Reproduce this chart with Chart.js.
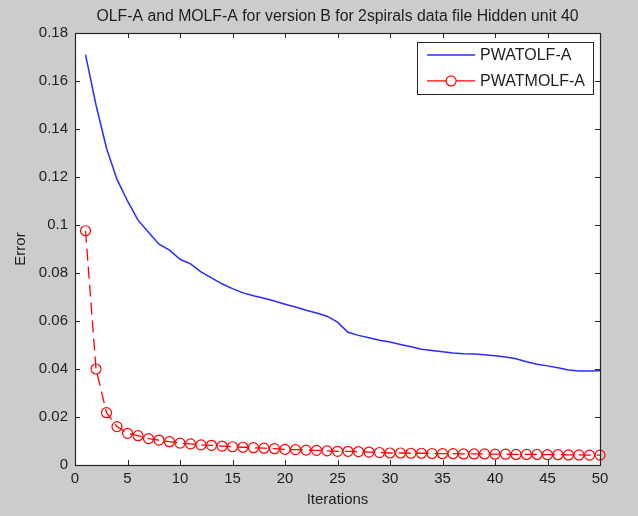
<!DOCTYPE html>
<html><head><meta charset="utf-8">
<script src="https://cdn.jsdelivr.net/npm/chart.js@4"></script>
<style>html,body{margin:0;padding:0;background:#cccccc;overflow:hidden}#wrap{width:638px;height:516px}</style>
</head><body><div id="wrap"><canvas id="c" width="638" height="516"></canvas></div>
<script>
const chartTitle = 'OLF-A and MOLF-A for version B for 2spirals data file Hidden unit 40';
const xAxisLabel = 'Iterations';
const yAxisLabel = 'Error';
const seriesNames = ['PWATOLF-A', 'PWATMOLF-A'];
const iterations = [1,2,3,4,5,6,7,8,9,10,11,12,13,14,15,16,17,18,19,20,21,22,23,24,25,26,27,28,29,30,31,32,33,34,35,36,37,38,39,40,41,42,43,44,45,46,47,48,49,50];
const pwatolfA = [0.171,0.150,0.132,0.119,0.110,0.102,0.097,0.092,0.0895,0.0857,
  0.0838,0.0805,0.0780,0.0755,0.0735,0.0717,0.0705,0.0695,0.0683,0.0670,
  0.0658,0.0645,0.0633,0.0620,0.0595,0.0553,0.0540,0.0530,0.0520,0.0512,
  0.0502,0.0493,0.0482,0.0477,0.0472,0.0467,0.0463,0.0462,0.0459,0.0455,
  0.0450,0.0443,0.0430,0.0420,0.0413,0.0405,0.0396,0.0392,0.0392,0.0393];
const pwatmolfA = [0.0976,0.0400,0.0218,0.0160,0.0132,0.0122,0.0110,0.0104,0.0097,0.0091,
  0.0088,0.0084,0.0082,0.0079,0.0076,0.0074,0.0072,0.0070,0.0068,0.0065,
  0.0064,0.0062,0.0061,0.0059,0.0057,0.0057,0.0056,0.0054,0.0052,0.0050,
  0.0050,0.0049,0.0049,0.0048,0.0047,0.0047,0.0046,0.0046,0.0046,0.0045,
  0.0045,0.0044,0.0044,0.0044,0.0043,0.0043,0.0042,0.0042,0.0041,0.0041];
const xTicks = [0,5,10,15,20,25,30,35,40,45,50];
const yTicks = [0,0.02,0.04,0.06,0.08,0.1,0.12,0.14,0.16,0.18];

const FONT = '"Liberation Sans", Arial, Helvetica, sans-serif';
const TEXT = '#1e1e1e';

const framePlugin = {
  id: 'matlabFrame',
  beforeDraw(chart) {
    const {ctx, chartArea: a} = chart;
    ctx.save();
    ctx.fillStyle = '#cccccc';
    ctx.fillRect(0, 0, chart.width, chart.height);
    ctx.fillStyle = '#ffffff';
    ctx.fillRect(a.left, a.top, a.right - a.left, a.bottom - a.top);
    ctx.restore();
  },
  beforeDatasetsDraw(chart) {
    const {ctx, chartArea: a, scales} = chart;
    ctx.save();
    ctx.strokeStyle = '#262626';
    ctx.lineWidth = 1;
    const L = 5;
    ctx.beginPath();
    scales.x.ticks.forEach(t => {
      const px = Math.round(scales.x.getPixelForValue(t.value)) + 0.5;
      ctx.moveTo(px, a.bottom); ctx.lineTo(px, a.bottom - L);
      ctx.moveTo(px, a.top); ctx.lineTo(px, a.top + L);
    });
    scales.y.ticks.forEach(t => {
      const py = Math.round(scales.y.getPixelForValue(t.value)) + 0.5;
      ctx.moveTo(a.left, py); ctx.lineTo(a.left + L, py);
      ctx.moveTo(a.right, py); ctx.lineTo(a.right - L, py);
    });
    ctx.stroke();
    ctx.restore();
  },
  afterDatasetsDraw(chart) {
    const {ctx, chartArea: a} = chart;
    ctx.save();
    ctx.strokeStyle = '#262626';
    ctx.lineWidth = 1.2;
    ctx.strokeRect(Math.round(a.left) + 0.5, Math.round(a.top) + 0.5,
      Math.round(a.right - a.left), Math.round(a.bottom - a.top));
    // legend
    const ds = chart.data.datasets;
    ctx.font = '16px ' + FONT;
    let tw = 0;
    ds.forEach(d => { tw = Math.max(tw, ctx.measureText(d.label).width); });
    const sample = 48, padL = 10, gap = 5, padR = 8, rowH = 26, padT = 13;
    const w = padL + sample + gap + tw + padR;
    const h = padT * 2 + rowH * (ds.length - 1);
    const right = a.right - 7, top = a.top + 9;
    const left = right - w;
    ctx.fillStyle = '#ffffff';
    ctx.fillRect(left, top, w, h);
    ctx.strokeStyle = '#262626';
    ctx.lineWidth = 1;
    ctx.strokeRect(Math.round(left) + 0.5, Math.round(top) + 0.5, Math.round(w), Math.round(h));
    ds.forEach((d, i) => {
      const cy = top + padT + i * rowH;
      ctx.strokeStyle = d.borderColor;
      ctx.lineWidth = d.borderWidth;
      ctx.setLineDash([]);
      ctx.beginPath();
      ctx.moveTo(left + padL, cy);
      ctx.lineTo(left + padL + sample, cy);
      ctx.stroke();
      if (d.pointRadius > 0) {
        ctx.fillStyle = '#ffffff';
        ctx.beginPath();
        ctx.arc(left + padL + sample / 2, cy, d.pointRadius, 0, Math.PI * 2);
        ctx.fill();
        ctx.lineWidth = d.pointBorderWidth;
        ctx.stroke();
      }
      ctx.fillStyle = TEXT;
      ctx.textAlign = 'left';
      ctx.textBaseline = 'middle';
      ctx.fillText(d.label, left + padL + sample + gap, cy + 1);
    });
    ctx.restore();
  }
};

new Chart(document.getElementById('c'), {
  type: 'line',
  data: {
    datasets: [
      {
        label: seriesNames[0],
        data: iterations.map((x, i) => ({x, y: pwatolfA[i]})),
        borderColor: '#2a2aff',
        borderWidth: 1.5,
        pointRadius: 0,
        tension: 0,
        fill: false
      },
      {
        label: seriesNames[1],
        data: iterations.map((x, i) => ({x, y: pwatmolfA[i]})),
        borderColor: '#ff0000',
        borderWidth: 1.3,
        borderDash: [12, 6],
        pointRadius: 5,
        pointBorderWidth: 1.2,
        pointBorderColor: '#ff0000',
        pointBackgroundColor: 'rgba(0,0,0,0)',
        pointStyle: 'circle',
        tension: 0,
        fill: false,
        clip: false
      }
    ]
  },
  options: {
    responsive: false,
    animation: false,
    devicePixelRatio: 1,
    layout: { padding: { left: 0, right: 38, top: 0, bottom: 0 } },
    plugins: {
      legend: { display: false },
      tooltip: { enabled: false },
      title: {
        display: true,
        fullSize: false,
        text: chartTitle,
        color: TEXT,
        font: { family: FONT, size: 15.8, weight: 'normal', lineHeight: 1.2 },
        padding: { top: 7, bottom: 7 }
      }
    },
    scales: {
      x: {
        type: 'linear',
        min: 0, max: 50,
        afterBuildTicks: s => { s.ticks = xTicks.map(v => ({value: v})); },
        afterFit: s => { s.height = 51; },
        grid: { display: false, drawTicks: false },
        border: { display: false },
        ticks: { color: TEXT, padding: 5, maxRotation: 0, autoSkip: false,
          font: { family: FONT, size: 15 }, callback: v => String(v) },
        title: { display: true, text: xAxisLabel, color: TEXT,
          font: { family: FONT, size: 15, lineHeight: 1.2 }, padding: { top: 0, bottom: 7 } }
      },
      y: {
        type: 'linear',
        min: 0, max: 0.18,
        afterBuildTicks: s => { s.ticks = yTicks.map(v => ({value: v})); },
        afterFit: s => { s.width = 75; },
        grid: { display: false, drawTicks: false },
        border: { display: false },
        ticks: { color: TEXT, padding: 7, autoSkip: false,
          font: { family: FONT, size: 15 }, callback: v => String(Number(v.toFixed(2))) },
        title: { display: true, text: yAxisLabel, color: TEXT,
          font: { family: FONT, size: 15, lineHeight: 1.2 }, padding: { top: 12, bottom: 0 } }
      }
    }
  },
  plugins: [framePlugin]
});
</script></body></html>
